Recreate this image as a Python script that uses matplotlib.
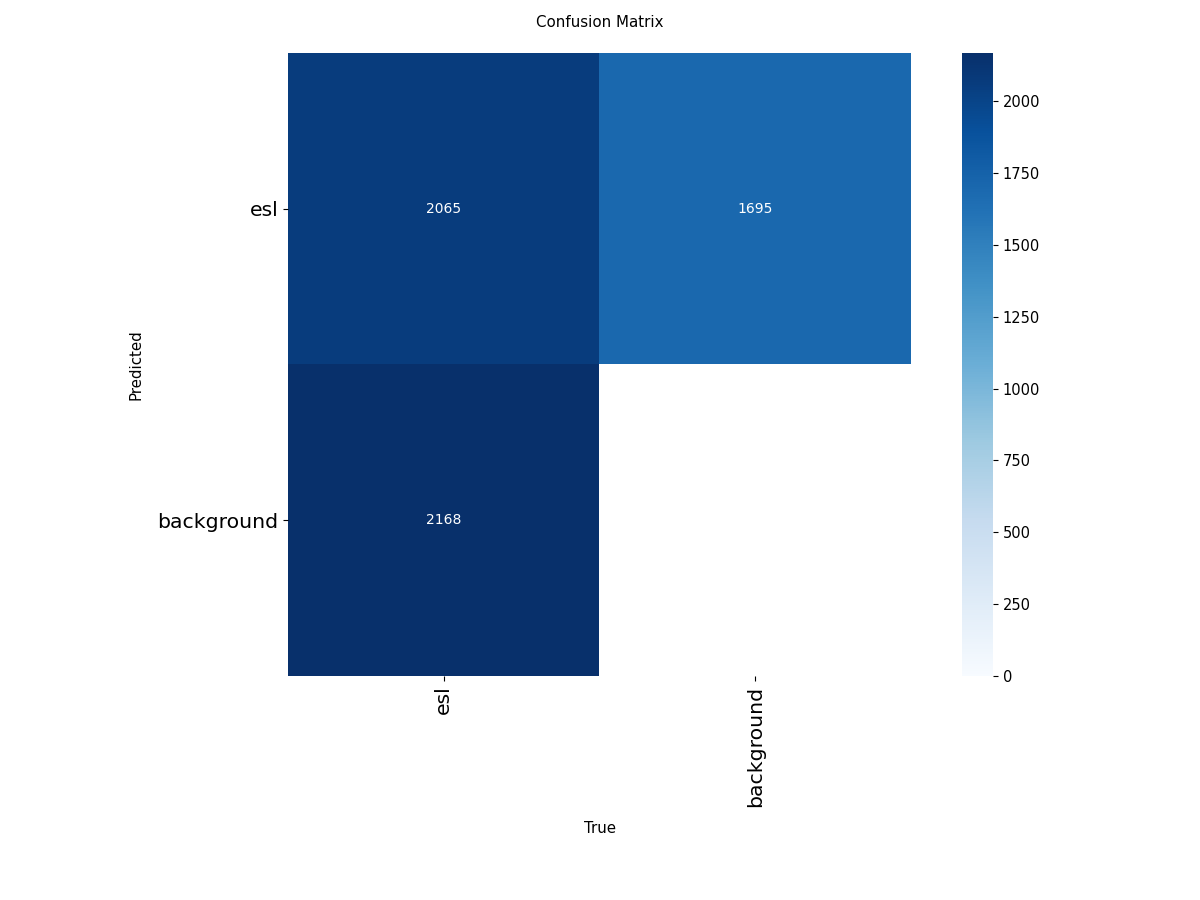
import numpy as np
import matplotlib
matplotlib.use("Agg")
from matplotlib import pyplot as plt

names = ["esl", "background"]
# rows = predicted, cols = true; 0 cell shown blank
counts = [[2065, 1695],
          [2168, 0]]

array = np.array(counts, dtype=float)
array[array < 0.005] = np.nan

fig = plt.figure(figsize=(12, 9), dpi=100)
ax = fig.add_axes([288 / 1200, 224 / 900, 623 / 1200, 623 / 900])
cax = fig.add_axes([962 / 1200, 224 / 900, 31 / 1200, 623 / 900])

im = ax.imshow(array, cmap="Blues", vmin=0.0, interpolation="none", aspect="auto")
thr = 0.45 * np.nanmax(array)
for i, row in enumerate(array):
    for j, val in enumerate(row):
        if not np.isnan(val):
            ax.text(j, i, f"{int(val)}", ha="center", va="center", fontsize=10,
                    color="white" if val > thr else "black")

cbar = fig.colorbar(im, cax=cax)
cbar.ax.tick_params(labelsize=10.5)
cbar.outline.set_visible(False)

ax.set_title("Confusion Matrix", fontsize=10.8, pad=19)
ax.set_xlabel("True", fontsize=10.8, labelpad=10)
ax.set_ylabel("Predicted", fontsize=10.8, labelpad=10)
ticks = np.arange(len(names))
ax.set_xticks(ticks)
ax.set_yticks(ticks)
ax.set_xticklabels(names, fontsize=14.7, rotation=90, ha="center")
ax.set_yticklabels(names, fontsize=14.7)
for s in ["left", "right", "bottom", "top"]:
    ax.spines[s].set_visible(False)

fig.savefig("out.png", dpi=100)
